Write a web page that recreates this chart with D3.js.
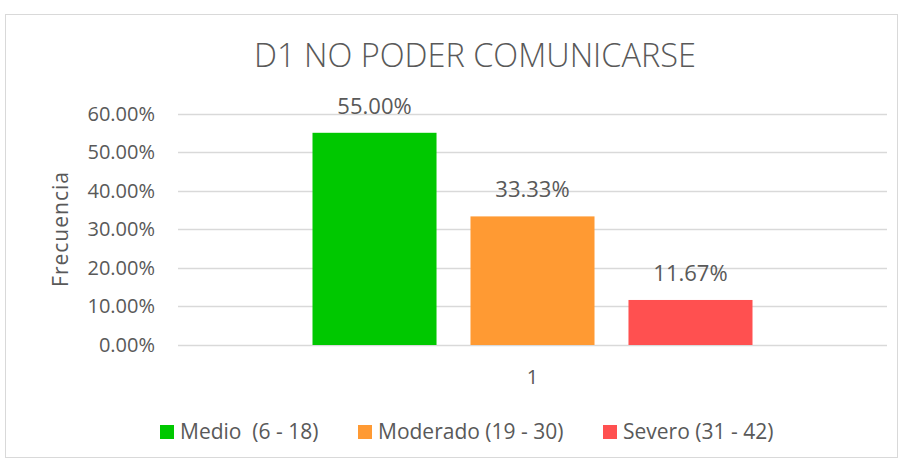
<!DOCTYPE html>
<html>
<head>
<meta charset="utf-8">
<script src="https://cdn.jsdelivr.net/npm/d3@7"></script>
<style>
  body { margin: 0; background: #fff; }
  svg text { font-family: "Open Sans", Lato, sans-serif; fill: #595959; }
</style>
</head>
<body>
<div id="root"></div>
<script>
"use strict";

var title = 'D1 NO PODER COMUNICARSE';
var categories = ['1'];
var series = ['Medio  (6 - 18)', 'Moderado (19 - 30)', 'Severo (31 - 42)'];
var values = [0.55, 0.3333, 0.1167];
var colors = ['#00c800', '#ff9a33', '#ff5050'];
var y_ticks = [0, 0.1, 0.2, 0.3, 0.4, 0.5, 0.6];

var width = 902;
var height = 459;

var plot = { left: 178, right: 887, top: 113.5, bottom: 345 };

var svg = d3.select('#root')
    .append('svg')
    .attr('width', width)
    .attr('height', height);

// chart border
svg.append('rect')
    .attr('x', 5.5).attr('y', 14.5)
    .attr('width', 892).attr('height', 443)
    .attr('fill', '#fff')
    .attr('stroke', '#d9d9d9');

var y = d3.scaleLinear().domain([0, 0.6]).range([plot.bottom, plot.top]);

var x_cat = d3.scaleBand().domain(categories).range([plot.left, plot.right]);

// bars take 440 of 709 px, gap between bars ~ 34px
var x_ser = d3.scaleBand()
    .domain(series)
    .range([x_cat.bandwidth() / 2 - 220, x_cat.bandwidth() / 2 + 220])
    .paddingInner(0.215);

var fmt = d3.format('.2%');

// gridlines
svg.append('g').selectAll('line')
    .data(y_ticks)
    .enter().append('line')
    .attr('x1', plot.left).attr('x2', plot.right)
    .attr('y1', function(d) { return Math.round(y(d)) + 0.5; })
    .attr('y2', function(d) { return Math.round(y(d)) + 0.5; })
    .attr('stroke', '#d9d9d9')
    .attr('stroke-width', 1.3);

// y tick labels
svg.append('g').selectAll('text')
    .data(y_ticks)
    .enter().append('text')
    .attr('x', 155)
    .attr('y', function(d) { return y(d); })
    .attr('dy', '0.35em')
    .attr('text-anchor', 'end')
    .style('font-size', '20px')
    .text(function(d) { return fmt(d); });

// y axis title
svg.append('text')
    .attr('transform', 'translate(68,229) rotate(-90)')
    .attr('text-anchor', 'middle')
    .style('font-size', '21px')
    .style('letter-spacing', '1px')
    .text('Frecuencia');

// title
svg.append('text')
    .attr('x', 475).attr('y', 67)
    .attr('text-anchor', 'middle')
    .style('font-size', '32.5px')
    .style('font-weight', 300)
    .text(title);

var g_cat = svg.append('g').selectAll('g')
    .data(categories)
    .enter().append('g')
    .attr('transform', function(d) { return 'translate(' + x_cat(d) + ',0)'; });

g_cat.selectAll('rect')
    .data(series)
    .enter().append('rect')
    .attr('x', function(d) { return x_ser(d); })
    .attr('width', x_ser.bandwidth())
    .attr('y', function(d, i) { return y(values[i]); })
    .attr('height', function(d, i) { return y(0) - y(values[i]); })
    .attr('fill', function(d, i) { return colors[i]; });

g_cat.selectAll('text.label')
    .data(series)
    .enter().append('text')
    .attr('class', 'label')
    .attr('x', function(d) { return x_ser(d) + x_ser.bandwidth() / 2; })
    .attr('y', function(d, i) { return y(values[i]) - 19; })
    .attr('text-anchor', 'middle')
    .style('font-size', '22px')
    .text(function(d, i) { return fmt(values[i]); });

// category label
svg.append('g').selectAll('text')
    .data(categories)
    .enter().append('text')
    .attr('x', function(d) { return x_cat(d) + x_cat.bandwidth() / 2; })
    .attr('y', 384)
    .attr('text-anchor', 'middle')
    .style('font-size', '20px')
    .text(function(d) { return d; });

// legend
var legend_x = [160, 358, 603];
var legend = svg.append('g').selectAll('g')
    .data(series)
    .enter().append('g')
    .attr('transform', function(d, i) { return 'translate(' + legend_x[i] + ',425)'; });

legend.append('rect')
    .attr('width', 14).attr('height', 14)
    .attr('fill', function(d, i) { return colors[i]; });

legend.append('text')
    .attr('x', 20).attr('y', 7)
    .attr('dy', '0.35em')
    .style('font-size', '21px')
    .style('white-space', 'pre')
    .text(function(d) { return d; });
</script>
</body>
</html>
